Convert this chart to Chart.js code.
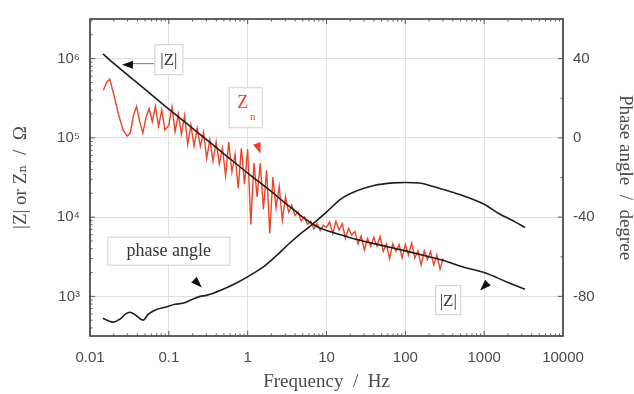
<!DOCTYPE html>
<html><head><meta charset="utf-8">
<script src="https://cdn.jsdelivr.net/npm/chart.js@4/dist/chart.umd.min.js"></script>
<style>html,body{margin:0;padding:0;background:#fff;}#wrap{width:634px;height:394px;position:relative;}</style>
</head><body><div id="wrap"><canvas id="c"></canvas></div>
<script>
// ---- tick values / labels ----
const xTickValues = [0.01, 0.1, 1, 10, 100, 1000, 10000];
const xTickLabels = ['0.01', '0.1', '1', '10', '100', '1000', '10000'];
const zTickValues = [1e3, 1e4, 1e5, 1e6];
const zTickLabels = ['10³', '10⁴', '10⁵', '10⁶'];
const phaseTickValues = [-80, -40, 0, 40];

// ---- |Z| (black) ----
const absZFreq = [0.0146, 0.02, 0.05, 0.1, 0.2, 0.5, 1, 2, 3, 4, 5, 6.3, 8, 10, 15, 20, 50, 100, 200, 300, 500, 1000, 2000, 3300];
const absZValues = [1.15e6, 8.7e5, 4.1e5, 2.3e5, 1.32e5, 6.3e4, 3.6e4, 2.1e4, 1.5e4, 1.2e4, 1.0e4, 8.5e3, 7.4e3, 6.8e3, 6.0e3, 5.5e3, 4.4e3, 3.75e3, 3.16e3, 2.85e3, 2.4e3, 2.0e3, 1.5e3, 1.23e3];

// ---- phase angle (black, right axis) ----
const phaseFreq = [0.0146, 0.0175, 0.0195, 0.024, 0.028, 0.032, 0.038, 0.047, 0.055, 0.071, 0.09, 0.12, 0.15, 0.186, 0.25, 0.3, 0.48, 0.7, 1.06, 1.6, 2.3, 3.4, 5, 6.1, 10, 15, 25, 40, 70, 100, 150, 220, 400, 600, 1000, 1550, 2500, 3300];
const phaseValues = [-91, -92.5, -93, -91.5, -89, -88, -89.5, -92, -89, -86.5, -85.5, -84, -83.5, -82, -80, -79.5, -76.5, -73.5, -69.5, -65, -59.6, -53.2, -47.5, -44.8, -37.5, -31, -26.5, -24, -22.7, -22.5, -22.8, -24.4, -27.5, -29.8, -33.5, -38.3, -42.5, -45.3];

// ---- Zn (red, noisy) ----
const znFreq = [0.0148, 0.0162, 0.0178, 0.0200, 0.0229, 0.0263, 0.0295, 0.0324, 0.0355, 0.0389, 0.0427, 0.0468, 0.0513, 0.0562, 0.0617, 0.0676, 0.0741, 0.0813, 0.0891,
  0.1, 0.1096, 0.1202, 0.1318, 0.1445, 0.1585, 0.1738, 0.1905, 0.2089, 0.2291, 0.2512, 0.2754, 0.3020, 0.3311, 0.3631, 0.3981, 0.4365, 0.4786, 0.5248, 0.5754, 0.6310, 0.6918, 0.7586, 0.8318, 0.9120,
  1.000, 1.096, 1.202, 1.318, 1.445, 1.585, 1.738, 1.905, 2.089, 2.291, 2.512, 2.754, 3.020,
  3.311, 3.631, 3.981, 4.365, 4.786, 5.248, 5.754, 6.310, 6.918, 7.586, 8.318, 9.120,
  10.00, 10.96, 12.02, 13.18, 14.45, 15.85, 17.38, 19.05, 20.89, 22.91,
  25.12, 27.54, 30.20, 33.11, 36.31, 39.81, 43.65, 47.86, 52.48, 57.54, 63.10, 69.18, 75.86, 83.18, 91.20, 100.0, 109.6, 120.2, 131.8, 144.5, 158.5, 173.8, 190.5, 208.9, 229.1, 251.2, 275.4, 302.0];
const znValues = [3.98e5, 5.0e5, 5.5e5, 3.55e5, 2.0e5, 1.26e5, 1.05e5, 1.15e5, 1.9e5, 2.5e5, 1.6e5, 1.15e5, 1.78e5, 2.35e5, 1.6e5, 2.5e5, 1.4e5, 2.25e5, 1.26e5,
  1.45e5, 2.45e5, 1.2e5, 2.0e5, 1.12e5, 1.9e5, 8.3e4, 1.45e5, 7.9e4, 1.32e5, 7.8e4, 1.17e5, 5.5e4, 9.4e4, 5.1e4, 8.9e4, 4.7e4, 7.4e4, 3.3e4, 8.9e4, 3.7e4, 6.2e4, 2.3e4, 7.4e4, 2.6e4,
  7.2e4, 8.1e3, 4.8e4, 1.8e4, 4.8e4, 1.26e4, 3.9e4, 6.2e3, 3.2e4, 1.32e4, 2.45e4, 9.1e3, 1.8e4,
  1.15e4, 1.41e4, 1.05e4, 1.17e4, 8.9e3, 1.0e4, 8.1e3, 8.9e3, 7.1e3, 8.3e3, 6.8e3, 7.9e3,
  7.4e3, 8.7e3, 6.2e3, 8.9e3, 6.9e3, 8.3e3, 5.4e3, 7.2e3, 5.9e3, 6.6e3,
  4.6e3, 5.8e3, 3.85e3, 5.4e3, 4.3e3, 5.6e3, 4.3e3, 5.7e3, 3.7e3, 4.6e3, 3.0e3, 4.6e3, 3.7e3, 4.5e3, 3.05e3, 4.5e3, 3.3e3, 4.7e3, 3.05e3, 3.75e3, 2.5e3, 3.75e3, 2.9e3, 3.7e3, 2.5e3, 3.35e3, 2.2e3, 3.0e3];

const zip = (xs, ys) => xs.map((v, i) => ({x: v, y: ys[i]}));

const SERIF = '"Liberation Serif", "DejaVu Serif", serif';
const SANS = '"Liberation Sans", Arial, sans-serif';

const decorPlugin = {
  id: 'decor',
  afterDatasetsDraw(chart) {
    const {ctx, chartArea: ca, scales} = chart;
    const xs = scales.x, ys = scales.y, ps = scales.y2;
    ctx.save();
    // frame
    ctx.strokeStyle = '#3a3a3a';
    ctx.lineWidth = 1.6;
    ctx.strokeRect(ca.left, ca.top, ca.right - ca.left, ca.bottom - ca.top);
    // inward ticks
    ctx.lineWidth = 1;
    ctx.strokeStyle = '#555';
    ctx.beginPath();
    for (let d = -2; d < 4; d++) {
      for (let m = 1; m < 10; m++) {
        const v = m * Math.pow(10, d);
        const p = xs.getPixelForValue(v);
        const L = m === 1 ? 5 : 2.5;
        ctx.moveTo(p, ca.bottom); ctx.lineTo(p, ca.bottom - L);
        ctx.moveTo(p, ca.top); ctx.lineTo(p, ca.top + L);
      }
    }
    for (let d = 2; d < 7; d++) {
      for (let m = 1; m < 10; m++) {
        const v = m * Math.pow(10, d);
        if (v < ys.min || v > ys.max) continue;
        const p = ys.getPixelForValue(v);
        const L = m === 1 ? 5 : 2.5;
        ctx.moveTo(ca.left, p); ctx.lineTo(ca.left + L, p);
      }
    }
    for (let v = -100; v <= 60; v += 20) {
      const p = ps.getPixelForValue(v);
      const L = (v % 40 === 0) ? 5 : 2.5;
      ctx.moveTo(ca.right, p); ctx.lineTo(ca.right - L, p);
    }
    ctx.stroke();

    const X = f => xs.getPixelForValue(f);
    const Y = z => ys.getPixelForValue(z);
    const P = a => ps.getPixelForValue(a);

    function box(cx, cy, w, h) {
      ctx.fillStyle = 'rgba(255,255,255,0.92)';
      ctx.fillRect(cx - w / 2, cy - h / 2, w, h);
      ctx.strokeStyle = '#cfcfcf';
      ctx.lineWidth = 1;
      ctx.strokeRect(cx - w / 2, cy - h / 2, w, h);
    }
    function tri(tx, ty, ang, color) {
      const len = 11, hw = 4;
      const dx = Math.cos(ang), dy = Math.sin(ang);
      const bx = tx - len * dx, by = ty - len * dy;
      ctx.fillStyle = color;
      ctx.beginPath();
      ctx.moveTo(tx, ty);
      ctx.lineTo(bx - hw * dy, by + hw * dx);
      ctx.lineTo(bx + hw * dy, by - hw * dx);
      ctx.closePath();
      ctx.fill();
    }
    ctx.textAlign = 'center';
    ctx.textBaseline = 'middle';

    // top |Z| label
    const t1x = X(0.1), t1y = Y(9.7e5);
    const a1x = X(0.0254), a1y = Y(8.4e5);
    ctx.strokeStyle = '#777'; ctx.lineWidth = 1;
    ctx.beginPath(); ctx.moveTo(a1x + 10, a1y - 1); ctx.lineTo(t1x - 14, a1y - 1); ctx.stroke();
    box(t1x, t1y, 28, 30);
    ctx.fillStyle = '#333'; ctx.font = '17px ' + SERIF;
    ctx.fillText('|Z|', t1x, t1y + 1);
    tri(a1x, a1y, Math.PI, '#111');

    // Zn label
    const t2x = X(0.944), t2y = Y(2.4e5);
    box(t2x, t2y, 33, 40);
    ctx.fillStyle = '#e8432a'; ctx.font = '18px ' + SERIF;
    ctx.fillText('Z', t2x - 3, t2y - 4);
    ctx.font = '11px ' + SERIF;
    ctx.fillText('n', t2x + 7, t2y + 9);
    tri(X(1.46), Y(6.3e4), 70 * Math.PI / 180, '#e8432a');

    // phase angle label
    const t3x = X(0.1), t3y = P(-57.2);
    box(t3x, t3y, 122, 28);
    ctx.fillStyle = '#333'; ctx.font = '18px ' + SERIF;
    ctx.fillText('phase angle', t3x, t3y);
    tri(X(0.262), P(-75.5), 45 * Math.PI / 180, '#111');

    // bottom |Z| label
    const t4x = X(350), t4y = Y(896);
    box(t4x, t4y, 25, 29);
    ctx.fillStyle = '#333'; ctx.font = '17px ' + SERIF;
    ctx.fillText('|Z|', t4x, t4y + 1);
    tri(X(889), Y(1.19e3), 135 * Math.PI / 180, '#111');

    ctx.restore();
  }
};

new Chart(document.getElementById('c'), {
  type: 'line',
  data: {
    datasets: [
      { label: 'Zn', data: zip(znFreq, znValues), yAxisID: 'y', borderColor: '#e9452a', borderWidth: 1.4, pointRadius: 0, tension: 0, order: 3 },
      { label: '|Z|', data: zip(absZFreq, absZValues), yAxisID: 'y', borderColor: '#1e1e1e', borderWidth: 1.6, pointRadius: 0, cubicInterpolationMode: 'monotone', order: 1 },
      { label: 'phase angle', data: zip(phaseFreq, phaseValues), yAxisID: 'y2', borderColor: '#1e1e1e', borderWidth: 1.6, pointRadius: 0, cubicInterpolationMode: 'monotone', order: 2 }
    ]
  },
  options: {
    responsive: true,
    maintainAspectRatio: false,
    animation: false,
    devicePixelRatio: 1,
    layout: { padding: { top: 13, left: 0, right: 0, bottom: 0 } },
    plugins: { legend: { display: false }, tooltip: { enabled: false } },
    scales: {
      x: {
        type: 'logarithmic', min: 0.01, max: 10000,
        afterBuildTicks: s => { s.ticks = xTickValues.map(v => ({value: v})); },
        afterFit: s => { s.height = 58; },
        ticks: { callback: (v, i) => xTickLabels[i], color: '#4a4a4a', font: { family: SANS, size: 15 }, padding: 13, maxRotation: 0, autoSkip: false },
        grid: { color: '#e0e0e0', lineWidth: 1, drawTicks: false },
        border: { display: false },
        title: { display: true, text: 'Frequency  /  Hz', color: '#4a4a4a', font: { family: SERIF, size: 19 }, padding: { top: 0, bottom: 1 } }
      },
      y: {
        type: 'logarithmic', position: 'left', min: 316.2278, max: 3162278,
        afterBuildTicks: s => { s.ticks = zTickValues.map(v => ({value: v})); },
        afterFit: s => { s.width = 90; },
        ticks: { callback: (v, i) => zTickLabels[i], color: '#4a4a4a', font: { family: SANS, size: 15 }, padding: 10, autoSkip: false },
        grid: { color: '#e0e0e0', lineWidth: 1, drawTicks: false },
        border: { display: false },
        title: { display: true, text: '|Z| or Zₙ  /  Ω', color: '#4a4a4a', font: { family: SERIF, size: 19 }, padding: { top: 10, bottom: 0 } }
      },
      y2: {
        type: 'linear', position: 'right', min: -100, max: 60,
        afterBuildTicks: s => { s.ticks = phaseTickValues.map(v => ({value: v})); },
        afterFit: s => { s.width = 71; },
        ticks: { color: '#4a4a4a', font: { family: SANS, size: 15 }, padding: 10, autoSkip: false },
        grid: { display: false, drawTicks: false },
        border: { display: false },
        title: { display: true, text: 'Phase angle  /  degree', color: '#4a4a4a', font: { family: SERIF, size: 19, lineHeight: 1.0 }, padding: { top: 0, bottom: 0 } }
      }
    }
  },
  plugins: [decorPlugin]
});
</script>
</body></html>
